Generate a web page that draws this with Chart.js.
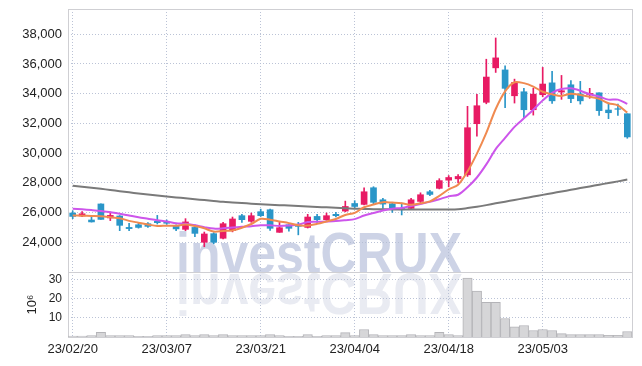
<!DOCTYPE html>
<html>
<head>
<meta charset="utf-8">
<script src="https://cdn.jsdelivr.net/npm/chart.js@4.4.0/dist/chart.umd.min.js"></script>
<style>
  body { margin: 0; background: #fff; }
  #wrap { position: relative; width: 642px; height: 366px; }
  #mark { position: absolute; left: 0; top: 0; }
  #top { position: absolute; left: 0; top: 0; width: 642px; height: 274px; }
  #bot { position: absolute; left: 0; top: 272px; width: 642px; height: 94px; }
</style>
</head>
<body>
<div id="wrap">
  <canvas id="mark" width="642" height="366"></canvas>
  <div id="top"><canvas id="priceChart"></canvas></div>
  <div id="bot"><canvas id="volChart"></canvas></div>
</div>
<script>
const dates = ['23/02/20','23/02/21','23/02/22','23/02/23','23/02/24','23/02/27','23/02/28',
  '23/03/02','23/03/03','23/03/06','23/03/07','23/03/08','23/03/09','23/03/10','23/03/13','23/03/14',
  '23/03/15','23/03/16','23/03/17','23/03/20','23/03/21','23/03/22','23/03/23','23/03/24','23/03/27',
  '23/03/28','23/03/29','23/03/30','23/03/31','23/04/03','23/04/04','23/04/05','23/04/06','23/04/07',
  '23/04/10','23/04/11','23/04/12','23/04/13','23/04/14','23/04/17','23/04/18','23/04/19','23/04/20',
  '23/04/21','23/04/24','23/04/25','23/04/26','23/04/27','23/04/28','23/05/02','23/05/03','23/05/04',
  '23/05/08','23/05/09','23/05/10','23/05/11','23/05/12','23/05/15','23/05/16','23/05/17'];

const opens = [25970,25770,25500,26580,25640,25770,25000,25180,25250,25410,25410,25070,24870,25000,24000,
  24580,24270,24780,25790,25410,26060,26190,24670,25180,25180,25000,25740,25520,25880,26100,
  26610,26550,27670,26860,26590,26280,26280,26750,27400,27630,28180,28270,28540,31980,33420,
  35740,35600,33860,34130,32920,33930,34730,34110,34600,33980,33930,34060,32900,32990,32650];
const closes = [25740,25920,25370,25540,25810,25140,24920,25000,25070,25320,25280,24900,25370,24600,24560,
  24000,25250,25570,25520,25790,25790,24940,24980,24940,25070,25700,25520,25790,25790,26410,
  26410,27400,26690,26570,26280,26190,26860,27200,27220,28150,28360,28430,31710,33190,35120,
  36410,34360,34760,32920,33970,34650,33520,34200,33670,33520,34020,32860,32720,32950,31090];
const highs = [26120,26060,25700,26580,26040,25800,25270,25300,25330,25810,25500,25180,25590,25180,24690,
  24650,25350,25700,25880,25970,26230,26230,25340,25180,25340,25880,25880,25970,26020,26770,
  26800,27670,27740,26950,26640,26640,26950,27330,27490,28280,28490,28560,33150,33950,36320,
  37750,35870,34980,34360,34360,35770,35500,35230,34880,34830,34360,34060,33300,33300,32650];
const lows = [25590,25720,25360,25540,25460,24780,24780,24950,25000,25230,25200,24780,24780,24380,23700,
  23900,24230,24700,25340,25340,25740,24800,24670,24750,24500,24960,25340,25470,25700,26050,
  26320,26510,26600,26280,26010,25840,26230,26640,27130,27590,27730,27990,28430,31140,33320,
  35430,33060,33370,32380,32560,33790,33350,33620,33400,33300,33690,32540,32320,32540,31000];

// moving averages
const ma5 = [25800,25790,25770,25750,25690,25620,25440,25320,25200,25100,25120,25110,25190,25090,24940,
  24720,24760,24800,24980,25230,25580,25520,25400,25290,25140,25130,25240,25400,25570,25840,
  25980,26360,26540,26700,26670,26630,26520,26620,26750,27120,27560,27870,28770,29970,31360,
  32970,34160,34770,34710,34480,34130,33960,33850,34000,33910,33790,33650,33360,33210,32730];
const ma10 = [26260,26220,26170,26110,26020,25920,25800,25680,25580,25480,25400,25280,25250,25150,25020,
  24920,24940,24990,25040,25080,25140,25140,25100,25130,25190,25360,25380,25400,25430,25490,
  25560,25800,25970,26140,26260,26310,26440,26580,26720,26900,27090,27200,27700,28360,29240,
  30270,31020,31770,32340,32920,33550,34060,34310,34360,34200,33960,33810,33600,33600,33310];
const ma60 = [27800,27740,27670,27600,27520,27440,27360,27290,27220,27150,27080,27020,26960,26900,26840,
  26780,26720,26680,26640,26600,26560,26530,26500,26470,26440,26410,26380,26350,26320,26290,
  26260,26240,26230,26220,26210,26200,26200,26200,26200,26200,26200,26220,26300,26390,26500,
  26620,26730,26850,26960,27080,27190,27300,27420,27530,27650,27760,27870,27990,28100,28220];

// volume in millions
const volumes = [0.5,0.5,0.8,2.5,0.8,0.8,0.8,0.4,0.4,0.8,0.8,0.8,1.3,0.8,1.3,0.8,1.3,0.8,0.8,0.8,
  0.8,1.3,0.8,0.4,0.4,1.3,0.4,0.8,0.8,2.3,0.8,3.9,1.3,0.8,0.8,0.8,1.3,0.8,0.8,2.4,
  1.3,0.8,30.8,24,18.2,18.2,9.7,5.3,6.0,3.4,3.9,3.4,1.8,1.3,1.3,1.3,1.3,0.9,0.9,2.9];

const priceTicks = [24000,26000,28000,30000,32000,34000,36000,38000];
const volTicks = [10,20,30];

const UP = '#e81b64';
const DOWN = '#2a96c8';
const GRID = 'rgba(180,188,210,0.9)';
const FONT = '"Liberation Sans", Arial, sans-serif';

Chart.defaults.font.family = FONT;
Chart.defaults.color = '#222';

const candleColors = closes.map((c, i) => c >= opens[i] ? UP : DOWN);

const frame = {
  id: 'frame',
  beforeDatasetsDraw(chart) {
    const a = chart.chartArea, ctx = chart.ctx;
    ctx.save();
    ctx.strokeStyle = '#cfcfd3';
    ctx.lineWidth = 1;
    ctx.strokeRect(Math.round(a.left) + 0.5, Math.round(a.top) + 0.5,
      Math.round(a.right - a.left), Math.round(a.bottom - a.top));
    ctx.restore();
  }
};

// watermark behind the charts
(function () {
  const m = document.getElementById('mark').getContext('2d');
  const txt = 'investCRUX';
  m.font = 'bold 57px "Liberation Sans", Arial, sans-serif';
  const w = m.measureText(txt).width;
  m.save();
  m.translate(176, 273);
  m.scale(286 / w, 1);
  m.fillStyle = '#cdd3e6';
  m.fillText(txt, 0, 0);
  m.restore();
  m.save();
  m.translate(176, 274);
  m.scale(286 / w, -1);
  m.fillStyle = '#e9ebf2';
  m.fillText(txt, 0, 0);
  m.restore();
})();

const xGrid = {
  offset: false,
  drawTicks: false,
  color: c => c.index % 10 === 0 ? GRID : 'transparent'
};

function fixY(s) {
  s.width = 68;
  s.paddingTop = 0;
  s.paddingBottom = 0;
}

new Chart(document.getElementById('priceChart'), {
  type: 'bar',
  data: {
    labels: dates,
    datasets: [
      { type: 'line', data: ma5, borderColor: '#f08a50', borderWidth: 2, pointRadius: 0, tension: 0.3, order: 0 },
      { type: 'line', data: ma10, borderColor: '#cd55eb', borderWidth: 2, pointRadius: 0, tension: 0.3, order: 0 },
      { type: 'line', data: ma60, borderColor: '#7a7a7a', borderWidth: 2, pointRadius: 0, tension: 0.3, order: 0 },
      { data: opens.map((o, i) => [o, closes[i]]), backgroundColor: candleColors,
        barThickness: 6, grouped: false, order: 1 },
      { data: lows.map((l, i) => [l, highs[i]]), backgroundColor: candleColors,
        barThickness: 1, grouped: false, order: 2 }
    ]
  },
  options: {
    responsive: true,
    maintainAspectRatio: false,
    animation: false,
    events: [],
    layout: { padding: { top: 9, right: 10, bottom: 2, left: 0 } },
    plugins: { legend: { display: false }, tooltip: { enabled: false } },
    scales: {
      x: {
        offset: true,
        grid: xGrid,
        border: { display: false, dash: [1, 2] },
        ticks: { display: false, autoSkip: false },
        afterFit: s => { s.height = 0; s.paddingLeft = 0; s.paddingRight = 0; }
      },
      y: {
        min: 22000,
        max: 39700,
        afterBuildTicks: s => { s.ticks = priceTicks.map(v => ({ value: v })); },
        grid: { drawTicks: false, color: GRID },
        border: { display: false, dash: [1, 2] },
        ticks: { padding: 6, font: { size: 13 }, callback: v => v.toLocaleString('en-US') },
        afterFit: fixY
      }
    }
  },
  plugins: [frame]
});

new Chart(document.getElementById('volChart'), {
  type: 'bar',
  data: {
    labels: dates,
    datasets: [{
      data: volumes,
      backgroundColor: '#d6d6d8',
      borderColor: '#b4b4b8',
      borderWidth: 1,
      barPercentage: 1,
      categoryPercentage: 1
    }]
  },
  options: {
    responsive: true,
    maintainAspectRatio: false,
    animation: false,
    events: [],
    layout: { padding: { top: 0, right: 10, bottom: 0, left: 0 } },
    plugins: { legend: { display: false }, tooltip: { enabled: false } },
    scales: {
      x: {
        offset: true,
        grid: xGrid,
        border: { display: false, dash: [1, 2] },
        ticks: {
          autoSkip: false, maxRotation: 0, minRotation: 0, padding: 5,
          font: { size: 13 },
          callback: (v, i) => i % 10 === 0 ? dates[i] : ''
        },
        afterFit: s => { s.height = 29; s.paddingLeft = 0; s.paddingRight = 0; }
      },
      y: {
        min: 0,
        max: 34,
        afterBuildTicks: s => { s.ticks = volTicks.map(v => ({ value: v })); },
        grid: { drawTicks: false, color: GRID },
        border: { display: false, dash: [1, 2] },
        ticks: { padding: 6, font: { size: 12 } },
        title: { display: true, text: '10⁶', font: { size: 13 }, padding: { top: 25 } },
        afterFit: fixY
      }
    }
  },
  plugins: [frame]
});
</script>
</body>
</html>
